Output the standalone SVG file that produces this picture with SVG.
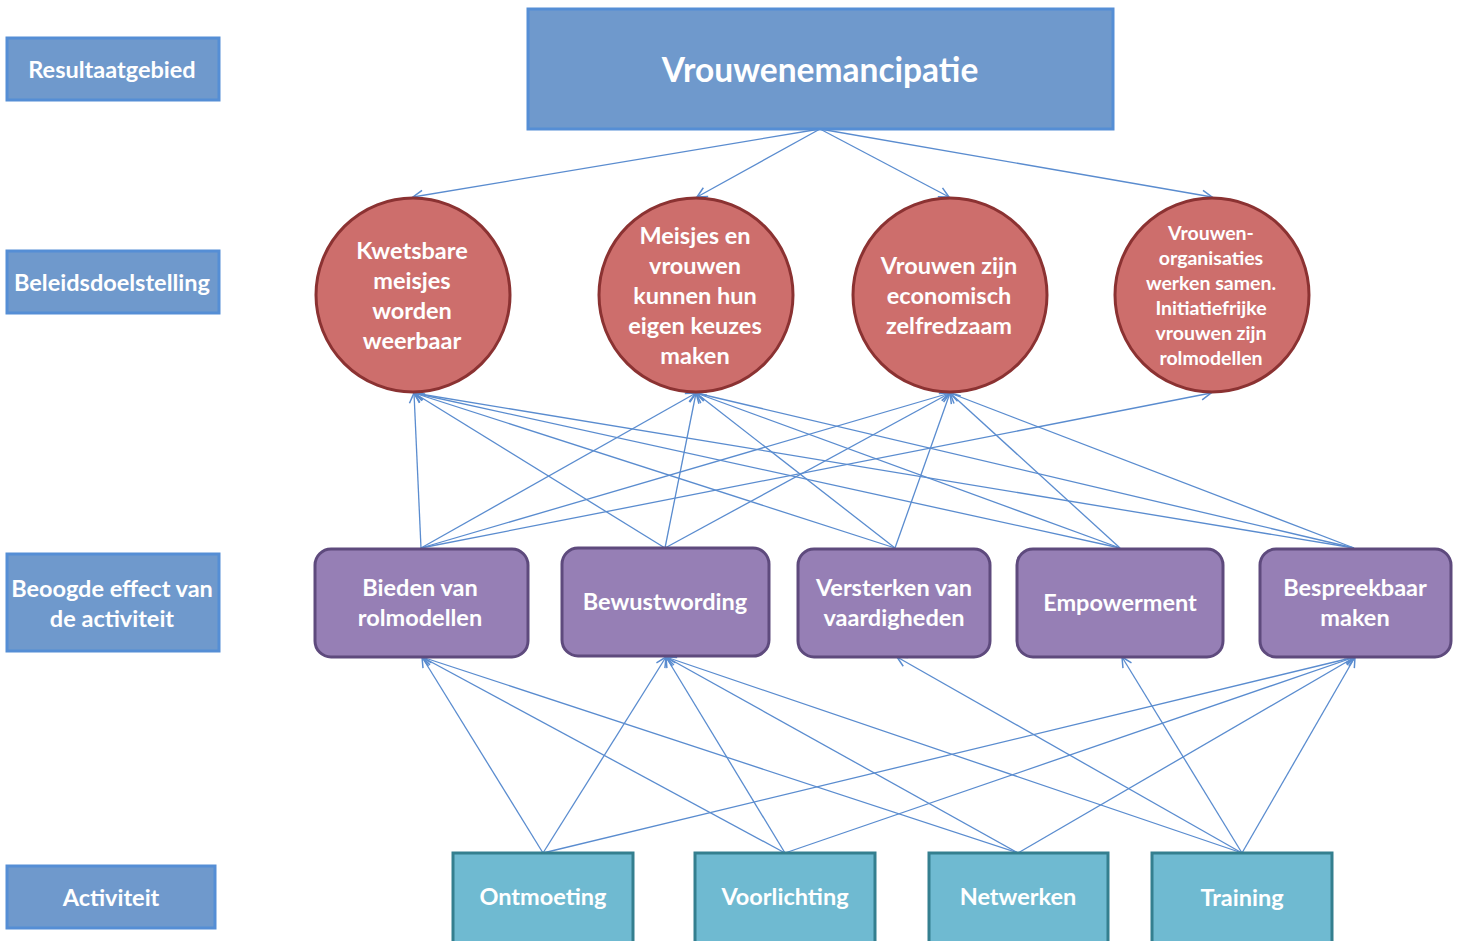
<svg xmlns="http://www.w3.org/2000/svg" width="1462" height="941" viewBox="0 0 1462 941">
<defs>
<style>
text{font-family:Lato,"Open Sans","Liberation Sans",sans-serif;font-weight:700;fill:#fff;text-anchor:middle;dominant-baseline:central}
.lbl rect{fill:#6f99cc;stroke:#558ed5;stroke-width:3}
.lbl text{font-size:23.5px}
.goal circle{fill:#cd6e6c;stroke:#8b3232;stroke-width:3}
.goal text{font-size:23.5px}
.goal.small text{font-size:19.5px}
.eff rect{fill:#967fb5;stroke:#5e4a7d;stroke-width:3}
.eff text{font-size:23.5px}
.act rect{fill:#6fbad1;stroke:#347f8f;stroke-width:3}
.act text{font-size:23.5px}
.top rect{fill:#6f99cc;stroke:#558ed5;stroke-width:3}
.top text{font-size:33.5px}
#connectors path{fill:none;stroke:#5a8ccf;stroke-width:1.3;marker-end:url(#arr)}
</style>
<marker id="arr" markerUnits="userSpaceOnUse" markerWidth="14" markerHeight="14" viewBox="-12 -7 14 14" refX="0" refY="0" orient="auto">
<path d="M-10,-5 L0,0 L-10,5" fill="none" stroke="#5a8ccf" stroke-width="1.5"/>
</marker>
</defs>
<rect width="1462" height="941" fill="#fff"/>

<g id="connectors">
<path d="M820,129 L413,197"/>
<path d="M820,129 L697,197"/>
<path d="M820,129 L949,197"/>
<path d="M820,129 L1212,197"/>

<path d="M421,548 L414,393"/>
<path d="M421,548 L696,393"/>
<path d="M421,548 L950,393"/>
<path d="M421,548 L1211,393"/>
<path d="M665,548 L414,393"/>
<path d="M665,548 L696,393"/>
<path d="M665,548 L950,393"/>
<path d="M895,548 L414,393"/>
<path d="M895,548 L696,393"/>
<path d="M895,548 L950,393"/>
<path d="M1120,548 L414,393"/>
<path d="M1120,548 L696,393"/>
<path d="M1120,548 L950,393"/>
<path d="M1354,548 L414,393"/>
<path d="M1354,548 L696,393"/>
<path d="M1354,548 L950,393"/>

<path d="M543,853 L422,657"/>
<path d="M543,853 L666,657"/>
<path d="M543,853 L1355,657"/>
<path d="M785,853 L422,657"/>
<path d="M785,853 L666,657"/>
<path d="M785,853 L1355,657"/>
<path d="M1018,853 L422,657"/>
<path d="M1018,853 L666,657"/>
<path d="M1018,853 L1355,657"/>
<path d="M1242,853 L666,657"/>
<path d="M1242,853 L897,657"/>
<path d="M1242,853 L1122,657"/>
<path d="M1242,853 L1355,657"/>
</g>

<g id="label-resultaatgebied" class="lbl"><rect x="7" y="38" width="212" height="62"/><text x="112" y="69">Resultaatgebied</text></g>
<g id="label-beleidsdoelstelling" class="lbl"><rect x="7" y="251" width="212" height="62"/><text x="112" y="282">Beleidsdoelstelling</text></g>
<g id="label-effect" class="lbl"><rect x="7" y="554" width="212" height="97"/><text x="112" y="588">Beoogde effect van</text><text x="112" y="618">de activiteit</text></g>
<g id="label-activiteit" class="lbl"><rect x="7" y="866" width="208" height="62"/><text x="111" y="897">Activiteit</text></g>

<g id="node-vrouwenemancipatie" class="top"><rect x="528" y="9" width="585" height="120"/><text x="820" y="69">Vrouwenemancipatie</text></g>

<g id="goal-1" class="goal"><circle cx="413" cy="295" r="97"/><text x="412" y="250">Kwetsbare</text><text x="412" y="280">meisjes</text><text x="412" y="310">worden</text><text x="412" y="340">weerbaar</text></g>
<g id="goal-2" class="goal"><circle cx="696" cy="295" r="97"/><text x="695" y="235">Meisjes en</text><text x="695" y="265">vrouwen</text><text x="695" y="295">kunnen hun</text><text x="695" y="325">eigen keuzes</text><text x="695" y="355">maken</text></g>
<g id="goal-3" class="goal"><circle cx="950" cy="295" r="97"/><text x="949" y="265">Vrouwen zijn</text><text x="949" y="295">economisch</text><text x="949" y="325">zelfredzaam</text></g>
<g id="goal-4" class="goal small"><circle cx="1212" cy="295" r="97"/><text x="1211" y="232">Vrouwen-</text><text x="1211" y="257">organisaties</text><text x="1211" y="282">werken samen.</text><text x="1211" y="307">Initiatiefrijke</text><text x="1211" y="332">vrouwen zijn</text><text x="1211" y="357">rolmodellen</text></g>

<g id="effect-bieden" class="eff"><rect x="315" y="549" width="213" height="108" rx="16"/><text x="420" y="587">Bieden van</text><text x="420" y="617">rolmodellen</text></g>
<g id="effect-bewustwording" class="eff"><rect x="562" y="548" width="207" height="108" rx="16"/><text x="665" y="601">Bewustwording</text></g>
<g id="effect-versterken" class="eff"><rect x="798" y="549" width="192" height="108" rx="16"/><text x="894" y="587">Versterken van</text><text x="894" y="617">vaardigheden</text></g>
<g id="effect-empowerment" class="eff"><rect x="1017" y="549" width="206" height="108" rx="16"/><text x="1120" y="602">Empowerment</text></g>
<g id="effect-bespreekbaar" class="eff"><rect x="1260" y="549" width="191" height="108" rx="16"/><text x="1355" y="587">Bespreekbaar</text><text x="1355" y="617">maken</text></g>

<g id="act-ontmoeting" class="act"><rect x="453" y="853" width="180" height="95"/><text x="543" y="896">Ontmoeting</text></g>
<g id="act-voorlichting" class="act"><rect x="695" y="853" width="180" height="95"/><text x="785" y="896">Voorlichting</text></g>
<g id="act-netwerken" class="act"><rect x="929" y="853" width="179" height="95"/><text x="1018" y="896">Netwerken</text></g>
<g id="act-training" class="act"><rect x="1152" y="853" width="180" height="95"/><text x="1242" y="897">Training</text></g>
</svg>
